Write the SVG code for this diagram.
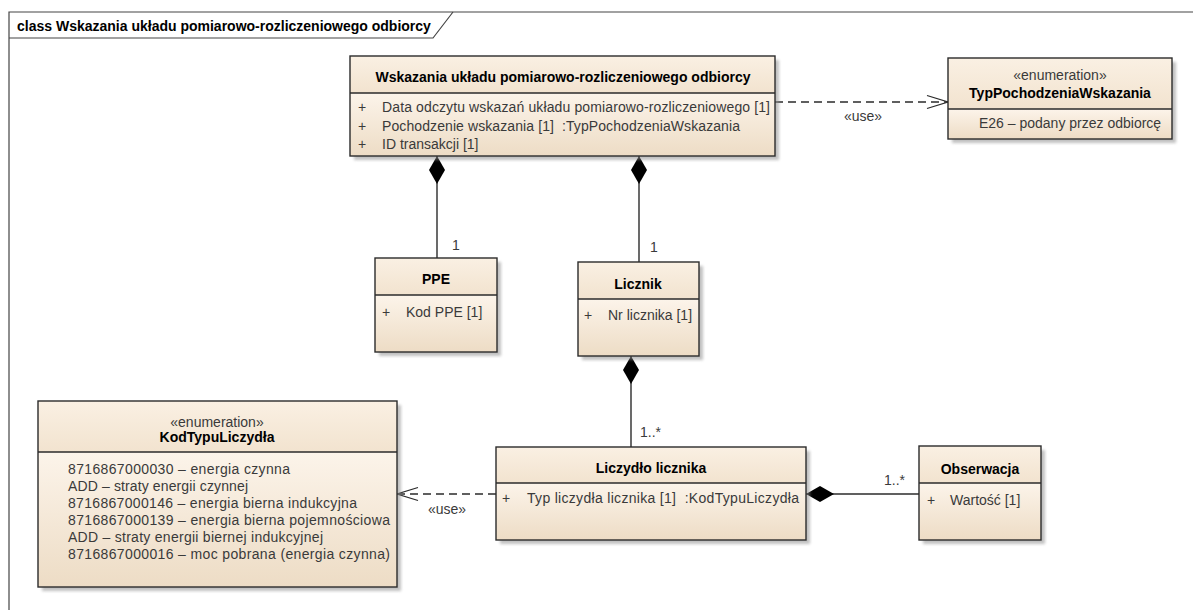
<svg xmlns="http://www.w3.org/2000/svg" width="1193" height="610" viewBox="0 0 1193 610">
<defs>
<linearGradient id="gh" x1="0" y1="0" x2="0" y2="1"><stop offset="0" stop-color="#FAF0E3"/><stop offset="1" stop-color="#F2E3CF"/></linearGradient>
<linearGradient id="gb" x1="0" y1="0" x2="0" y2="1"><stop offset="0" stop-color="#FCF4EA"/><stop offset="1" stop-color="#EDDCC5"/></linearGradient>
<filter id="sh" x="-10%" y="-10%" width="130%" height="130%"><feGaussianBlur stdDeviation="1.5"/></filter>
<marker id="dia" markerUnits="userSpaceOnUse" markerWidth="30" markerHeight="18" viewBox="0 -9 30 18" refX="0" refY="0" orient="auto" overflow="visible"><path d="M0,0 L14,-8 L28,0 L14,8 Z" fill="#000" stroke="none"/></marker>
<marker id="open" markerUnits="userSpaceOnUse" markerWidth="24" markerHeight="16" viewBox="-22 -8 24 16" refX="0" refY="0" orient="auto" overflow="visible"><path d="M-21,-6.5 L0,0 L-21,6.5" fill="none" stroke="#2b2b2b" stroke-width="1.3" stroke-dasharray="none"/></marker>
</defs>
<style>
.box{stroke:#2b2b2b;stroke-width:1.4;fill:none}
.shadow{fill:#8f8f8f;opacity:.55;filter:url(#sh)}
.t{font-family:"Liberation Sans",Arial,sans-serif;font-size:14px;white-space:pre}
.b{font-weight:bold;fill:#000}
.a{fill:#3a3a3a}
.c{text-anchor:middle}
.line{stroke:#2b2b2b;stroke-width:1.4;fill:none}
.dash{stroke-dasharray:8 5}
.frame{stroke:#444;stroke-width:1.2;fill:none}
</style>
<rect width="1193" height="610" fill="#fff"/>
<g id="frame">
<path class="frame" d="M9,610 L9,12 L1193,12"/>
<path class="frame" d="M9,38 L433,38 L453,12"/>
<text class="t b" x="17" y="31">class Wskazania układu pomiarowo-rozliczeniowego odbiorcy</text>
</g>
<g id="connectors">
<path class="line dash" d="M775,102 L948,102" marker-end="url(#open)"/>
<text class="t a c" x="863" y="121">«use»</text>
<path class="line" d="M437,156 L437,258" marker-start="url(#dia)"/>
<text class="t a" x="452" y="250">1</text>
<path class="line" d="M639,156 L639,262" marker-start="url(#dia)"/>
<text class="t a" x="650" y="252">1</text>
<path class="line" d="M631,356 L631,447" marker-start="url(#dia)"/>
<text class="t a" x="640" y="437">1..*</text>
<path class="line" d="M806,494 L919,494" marker-start="url(#dia)"/>
<text class="t a" x="884" y="485">1..*</text>
<path class="line dash" d="M496,494 L397,494" marker-end="url(#open)"/>
<text class="t a c" x="447" y="514">«use»</text>
</g>
<g id="wskazania">
<rect class="shadow" x="354" y="60" width="425" height="100"/>
<rect x="350" y="56" width="425" height="37" fill="url(#gh)"/>
<rect x="350" y="93" width="425" height="63" fill="url(#gb)"/>
<rect class="box" x="350" y="56" width="425" height="100"/>
<line class="box" x1="350" y1="93" x2="775" y2="93"/>
<text class="t b c" x="563" y="82">Wskazania układu pomiarowo-rozliczeniowego odbiorcy</text>
<text class="t a" x="358" y="112">+</text>
<text class="t a" x="382" y="112" textLength="388" lengthAdjust="spacing">Data odczytu wskazań układu pomiarowo-rozliczeniowego [1]</text>
<text class="t a" x="358" y="131">+</text>
<text class="t a" x="382" y="131" textLength="358" lengthAdjust="spacing">Pochodzenie wskazania [1]  :TypPochodzeniaWskazania</text>
<text class="t a" x="358" y="149">+</text>
<text class="t a" x="382" y="149">ID transakcji [1]</text>
</g>
<g id="typPochodzenia">
<rect class="shadow" x="952" y="62" width="224" height="81"/>
<rect x="948" y="58" width="224" height="51" fill="url(#gh)"/>
<rect x="948" y="109" width="224" height="30" fill="url(#gb)"/>
<rect class="box" x="948" y="58" width="224" height="81"/>
<line class="box" x1="948" y1="109" x2="1172" y2="109"/>
<text class="t a c" x="1060" y="80">«enumeration»</text>
<text class="t b c" x="1060" y="98">TypPochodzeniaWskazania</text>
<text class="t a" x="979" y="128">E26 – podany przez odbiorcę</text>
</g>
<g id="ppe">
<rect class="shadow" x="379" y="262" width="122" height="94"/>
<rect x="375" y="258" width="122" height="37" fill="url(#gh)"/>
<rect x="375" y="295" width="122" height="57" fill="url(#gb)"/>
<rect class="box" x="375" y="258" width="122" height="94"/>
<line class="box" x1="375" y1="295" x2="497" y2="295"/>
<text class="t b c" x="436" y="284">PPE</text>
<text class="t a" x="382" y="317">+</text>
<text class="t a" x="406" y="317">Kod PPE [1]</text>
</g>
<g id="licznik">
<rect class="shadow" x="582" y="266" width="121" height="94"/>
<rect x="578" y="262" width="121" height="37" fill="url(#gh)"/>
<rect x="578" y="299" width="121" height="57" fill="url(#gb)"/>
<rect class="box" x="578" y="262" width="121" height="94"/>
<line class="box" x1="578" y1="299" x2="699" y2="299"/>
<text class="t b c" x="638" y="289">Licznik</text>
<text class="t a" x="584" y="320">+</text>
<text class="t a" x="608" y="320">Nr licznika [1]</text>
</g>
<g id="liczydlo">
<rect class="shadow" x="500" y="451" width="310" height="93"/>
<rect x="496" y="447" width="310" height="36" fill="url(#gh)"/>
<rect x="496" y="483" width="310" height="57" fill="url(#gb)"/>
<rect class="box" x="496" y="447" width="310" height="93"/>
<line class="box" x1="496" y1="483" x2="806" y2="483"/>
<text class="t b c" x="651" y="473">Liczydło licznika</text>
<text class="t a" x="502" y="503">+</text>
<text class="t a" x="527" y="503" textLength="272" lengthAdjust="spacing">Typ liczydła licznika [1]  :KodTypuLiczydła</text>
</g>
<g id="obserwacja">
<rect class="shadow" x="923" y="450" width="122" height="94"/>
<rect x="919" y="446" width="122" height="37" fill="url(#gh)"/>
<rect x="919" y="483" width="122" height="57" fill="url(#gb)"/>
<rect class="box" x="919" y="446" width="122" height="94"/>
<line class="box" x1="919" y1="483" x2="1041" y2="483"/>
<text class="t b c" x="980" y="474">Obserwacja</text>
<text class="t a" x="927" y="505">+</text>
<text class="t a" x="950" y="505">Wartość [1]</text>
</g>
<g id="kodTypuLiczydla">
<rect class="shadow" x="42" y="405" width="359" height="186"/>
<rect x="38" y="401" width="359" height="51" fill="url(#gh)"/>
<rect x="38" y="452" width="359" height="135" fill="url(#gb)"/>
<rect class="box" x="38" y="401" width="359" height="186"/>
<line class="box" x1="38" y1="452" x2="397" y2="452"/>
<text class="t a c" x="217" y="427">«enumeration»</text>
<text class="t b c" x="217" y="442">KodTypuLiczydła</text>
<text class="t a" x="68" y="474" textLength="222" lengthAdjust="spacing">8716867000030 – energia czynna</text>
<text class="t a" x="68" y="491" textLength="180" lengthAdjust="spacing">ADD – straty energii czynnej</text>
<text class="t a" x="68" y="508" textLength="289" lengthAdjust="spacing">8716867000146 – energia bierna indukcyjna</text>
<text class="t a" x="68" y="525" textLength="322" lengthAdjust="spacing">8716867000139 – energia bierna pojemnościowa</text>
<text class="t a" x="68" y="542" textLength="255" lengthAdjust="spacing">ADD – straty energii biernej indukcyjnej</text>
<text class="t a" x="68" y="559" textLength="322" lengthAdjust="spacing">8716867000016 – moc pobrana (energia czynna)</text>
</g>
</svg>
